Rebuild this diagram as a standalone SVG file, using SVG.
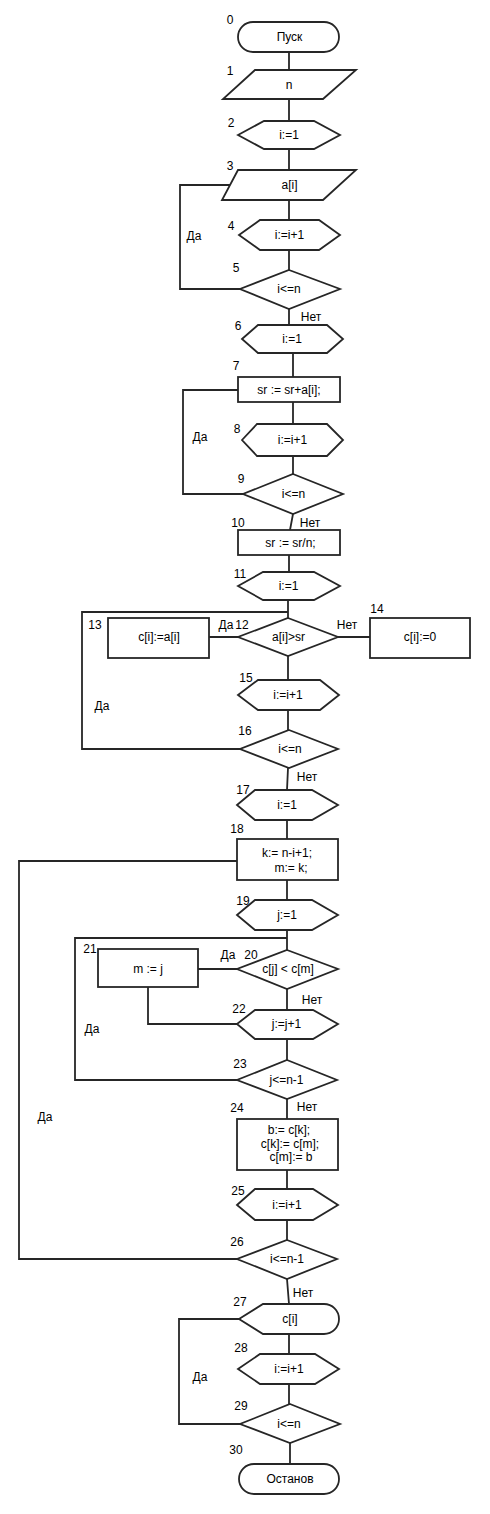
<svg xmlns="http://www.w3.org/2000/svg" width="490" height="1514" viewBox="0 0 490 1514">
<style>
.s{fill:#fff;stroke:#262626;stroke-width:1.8}
.c{fill:none;stroke:#262626;stroke-width:1.8}
text{font-family:"Liberation Sans",Arial,sans-serif;font-size:12px;fill:#000}
.m{text-anchor:middle}
.l{text-anchor:middle}
</style>
<rect width="490" height="1514" fill="#fff"/>
<g id="connectors">
<path class="c" d="M289,52V70M289,99V121M289,149V170M289,200V220M289,250V270"/>
<polyline class="c" points="240,289 180,289 180,185 230,185"/>
<path class="c" d="M289,309V325M293,353V377M293,402V424M293,456V474"/>
<polyline class="c" points="243,494 183,494 183,390 238,390"/>
<path class="c" d="M293,514L290,530M289,555V572M288,600V618M238,637H209M338,637H370M288,656V680M288,710V730"/>
<polyline class="c" points="240,749 82,749 82,612 288,612"/>
<path class="c" d="M288,768L287,790M287,820V839M287,880V900M287,930V950M237,969H198M287,989V1010M287,1039V1060"/>
<polyline class="c" points="148,987 148,1024 237,1024"/>
<polyline class="c" points="237,1080 75,1080 75,938 287,938"/>
<path class="c" d="M287,1099V1119M287,1170V1189M287,1220V1240"/>
<polyline class="c" points="237,1259 19,1259 19,861 237,861"/>
<path class="c" d="M287,1279L289,1304M289,1334V1354M289,1384V1404M290,1443V1464"/>
<polyline class="c" points="240,1424 179,1424 179,1319 239,1319"/>
</g>
<g id="edge-labels">
<text x="194" y="240" class="m">Да</text>
<text x="311" y="321" class="m">Нет</text>
<text x="200" y="441" class="m">Да</text>
<text x="310" y="527" class="m">Нет</text>
<text x="226" y="629" class="m">Да</text>
<text x="347" y="629" class="m">Нет</text>
<text x="102" y="710" class="m">Да</text>
<text x="307" y="781" class="m">Нет</text>
<text x="228" y="959" class="m">Да</text>
<text x="312" y="1004" class="m">Нет</text>
<text x="92" y="1033" class="m">Да</text>
<text x="307" y="1111" class="m">Нет</text>
<text x="45" y="1121" class="m">Да</text>
<text x="303" y="1297" class="m">Нет</text>
<text x="200" y="1381" class="m">Да</text>
</g>
<g id="n0"><rect class="s" x="238" y="22" width="101" height="30" rx="15"/><text x="289.5" y="41" class="m">Пуск</text><text x="230" y="24" class="l">0</text></g>
<g id="n1"><polygon class="s" points="255,70 356,70 323,99 223,99"/><text x="289" y="89" class="m">n</text><text x="230" y="75" class="l">1</text></g>
<g id="n2"><polygon class="s" points="238,135 264,121 314,121 340,135 314,149 264,149"/><text x="289" y="139" class="m">i:=1</text><text x="231" y="127" class="l">2</text></g>
<g id="n3"><polygon class="s" points="238,170 356,170 323,200 222,200"/><text x="289.5" y="189" class="m">a[i]</text><text x="230" y="170" class="l">3</text></g>
<g id="n4"><polygon class="s" points="239,235 260,220 319,220 340,235 319,250 260,250"/><text x="289.5" y="239" class="m">i:=i+1</text><text x="231" y="230" class="l">4</text></g>
<g id="n5"><polygon class="s" points="289,270 340,289 289,309 240,289"/><text x="289" y="293" class="m">i&lt;=n</text><text x="236" y="272" class="l">5</text></g>
<g id="n6"><polygon class="s" points="242,339 258,325 327,325 343,339 327,353 258,353"/><text x="292" y="343" class="m">i:=1</text><text x="238" y="330" class="l">6</text></g>
<g id="n7"><rect class="s" x="238" y="377" width="102" height="25"/><text x="289" y="394" class="m">sr := sr+a[i];</text><text x="236" y="370" class="l">7</text></g>
<g id="n8"><polygon class="s" points="242,440 257,424 327,424 343,440 327,456 257,456"/><text x="292.5" y="444" class="m">i:=i+1</text><text x="237" y="433" class="l">8</text></g>
<g id="n9"><polygon class="s" points="293,474 343,494 293,514 243,494"/><text x="293.5" y="498" class="m">i&lt;=n</text><text x="241" y="483" class="l">9</text></g>
<g id="n10"><rect class="s" x="238" y="530" width="102" height="25"/><text x="290.5" y="547" class="m">sr := sr/n;</text><text x="238" y="527" class="l">10</text></g>
<g id="n11"><polygon class="s" points="238,586 263,572 314,572 340,586 314,600 263,600"/><text x="288.5" y="590" class="m">i:=1</text><text x="240" y="578" class="l">11</text></g>
<g id="n12"><polygon class="s" points="288,618 338,637 288,656 238,637"/><text x="288.5" y="641" class="m">a[i]&gt;sr</text><text x="242" y="629" class="l">12</text></g>
<g id="n13"><rect class="s" x="108" y="618" width="101" height="40"/><text x="159" y="641" class="m">c[i]:=a[i]</text><text x="95" y="629" class="l">13</text></g>
<g id="n14"><rect class="s" x="370" y="618" width="100" height="40"/><text x="420" y="641" class="m">c[i]:=0</text><text x="377" y="613" class="l">14</text></g>
<g id="n15"><polygon class="s" points="238,695 258,680 320,680 339,695 320,710 258,710"/><text x="288" y="699" class="m">i:=i+1</text><text x="246" y="682" class="l">15</text></g>
<g id="n16"><polygon class="s" points="289,730 338,749 289,768 240,749"/><text x="290" y="753" class="m">i&lt;=n</text><text x="245" y="735" class="l">16</text></g>
<g id="n17"><polygon class="s" points="237,805 255,790 312,790 338,805 312,820 255,820"/><text x="287" y="809" class="m">i:=1</text><text x="243" y="794" class="l">17</text></g>
<g id="n18"><rect class="s" x="237" y="839" width="101" height="41"/><text x="287" y="857" class="m">k:= n-i+1;</text><text x="291" y="872" class="m">m:= k;</text><text x="237" y="833" class="l">18</text></g>
<g id="n19"><polygon class="s" points="237,915 255,900 312,900 338,915 312,930 255,930"/><text x="287" y="919" class="m">j:=1</text><text x="243" y="905" class="l">19</text></g>
<g id="n20"><polygon class="s" points="287,950 338,969 287,989 237,969"/><text x="288" y="973" class="m">c[j] &lt; c[m]</text><text x="251" y="959" class="l">20</text></g>
<g id="n21"><rect class="s" x="98" y="949" width="100" height="38"/><text x="148" y="973" class="m">m := j</text><text x="90" y="953" class="l">21</text></g>
<g id="n22"><polygon class="s" points="237,1024 255,1010 313,1010 338,1024 313,1039 255,1039"/><text x="286.5" y="1028" class="m">j:=j+1</text><text x="239" y="1013" class="l">22</text></g>
<g id="n23"><polygon class="s" points="287,1060 337,1080 287,1099 237,1080"/><text x="286.5" y="1084" class="m">j&lt;=n-1</text><text x="240" y="1068" class="l">23</text></g>
<g id="n24"><rect class="s" x="237" y="1119" width="101" height="51"/><text x="289" y="1134" class="m">b:= c[k];</text><text x="290" y="1148" class="m">c[k]:= c[m];</text><text x="291" y="1161" class="m">c[m]:= b</text><text x="237" y="1112" class="l">24</text></g>
<g id="n25"><polygon class="s" points="237,1205 255,1189 313,1189 338,1205 313,1220 255,1220"/><text x="287" y="1209" class="m">i:=i+1</text><text x="238" y="1195" class="l">25</text></g>
<g id="n26"><polygon class="s" points="287,1240 337,1259 287,1279 237,1259"/><text x="287" y="1263" class="m">i&lt;=n-1</text><text x="237" y="1246" class="l">26</text></g>
<g id="n27"><path class="s" d="M239,1319L263,1304H324A15,15 0 0 1 324,1334H263Z"/><text x="290" y="1323" class="m">c[i]</text><text x="240" y="1306" class="l">27</text></g>
<g id="n28"><polygon class="s" points="238,1369 260,1354 315,1354 339,1369 315,1384 260,1384"/><text x="289" y="1373" class="m">i:=i+1</text><text x="241" y="1352" class="l">28</text></g>
<g id="n29"><polygon class="s" points="290,1404 340,1424 290,1443 240,1424"/><text x="289" y="1428" class="m">i&lt;=n</text><text x="241" y="1410" class="l">29</text></g>
<g id="n30"><rect class="s" x="239" y="1464" width="100" height="30" rx="15"/><text x="290" y="1483" class="m">Останов</text><text x="236" y="1454" class="l">30</text></g>
</svg>
